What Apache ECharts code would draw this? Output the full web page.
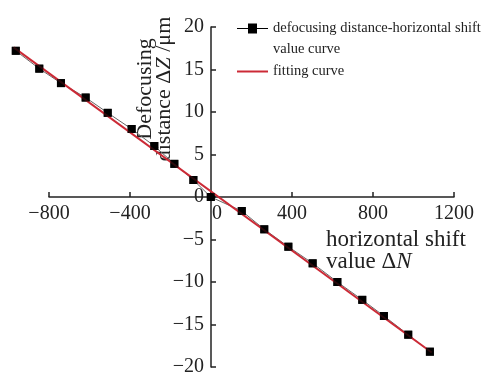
<!DOCTYPE html>
<html>
<head>
<meta charset="utf-8">
<script src="https://cdn.jsdelivr.net/npm/echarts@6/dist/echarts.min.js"></script>
<style>
html,body{margin:0;padding:0;background:#fff;}
#main{width:482px;height:374px;}
</style>
</head>
<body>
<div id="main"></div>
<script>
// measured points: horizontal shift value ΔN / defocusing distance ΔZ
var shiftN = [-964, -848, -741, -619, -510, -392, -280, -181, -87, -1, 152, 263, 382, 502, 624, 747, 854, 974, 1081];
var defocusZ = [17.2, 15.1, 13.4, 11.7, 9.9, 8.0, 6.0, 3.9, 2.0, 0.0, -1.65, -3.8, -5.85, -7.8, -10.0, -12.1, -14.0, -16.2, -18.2];
// fitting line end points
var fitN = [-975, 1090];
var fitZ = [17.6, -18.3];
var seriesNames = ['defocusing distance-horizontal shift value curve', 'fitting curve'];

var font = '"Liberation Serif", "DejaVu Serif", serif';
var minus = function (v) { return v === 0 ? '{z|0}' : String(v).replace('-', '\u2212'); };

var pairs = function (xs, ys) {
	var arr = [];
	for (var i = 0; i < xs.length; i++) { arr.push([xs[i], ys[i]]); }
	return arr;
};

var chart = echarts.init(document.getElementById('main'));
var option = {
	animation: false,
	backgroundColor: '#fff',
	// grid 0 carries the drawn axes, grid 1 (hidden axes, wider on the left) carries the data
	grid: [
		{left: 49, right: 28, top: 27, bottom: 7, containLabel: false, outerBoundsMode: 'none'},
		{left: 8.5, right: 28, top: 27, bottom: 7, containLabel: false, outerBoundsMode: 'none'}
	],
	legend: {
		orient: 'vertical', left: 237, top: 2.5, padding: 0,
		itemWidth: 31, itemHeight: 10, itemGap: 7,
		data: [
			{name: seriesNames[0], icon: 'path://M0,4.5H11V0H20V4.5H31V5.5H20V10H11V5.5H0Z'},
			{name: seriesNames[1], icon: 'path://M0,4H31V6H0Z'}
		],
		formatter: function (name) {
			if (name === seriesNames[0]) {
				return '{s| }\n{t|defocusing distance-horizontal shift}\n{t|value curve}';
			}
			return '{t|' + name + '}';
		},
		textStyle: {
			fontFamily: font, fontSize: 14.5, color: '#222',
			rich: {
				s: {fontSize: 10, lineHeight: 21},
				t: {fontFamily: font, fontSize: 14.5, lineHeight: 21, color: '#222'}
			}
		}
	},
	xAxis: [
		{
			gridIndex: 0, type: 'value', min: -800, max: 1200, interval: 400,
			position: 'bottom', offset: -170,
			axisLine: {onZero: false, lineStyle: {color: '#222', width: 1.5}},
			axisTick: {inside: true, length: 5, lineStyle: {color: '#222', width: 1.5}},
			axisLabel: {fontFamily: font, fontSize: 20, color: '#222', margin: 7, formatter: minus,
				rich: {z: {fontFamily: font, fontSize: 20, color: '#222', padding: [0, 0, 0, 12]}}},
			splitLine: {show: false}
		},
		{gridIndex: 1, type: 'value', min: -1000, max: 1200, show: false}
	],
	yAxis: [
		{
			gridIndex: 0, type: 'value', min: -20, max: 20, interval: 5,
			position: 'left', offset: -162,
			axisLine: {show: true, onZero: false, lineStyle: {color: '#222', width: 1.5}},
			axisTick: {show: true, inside: true, length: 5, lineStyle: {color: '#222', width: 1.5}},
			axisLabel: {fontFamily: font, fontSize: 20, color: '#222', margin: 7,
				formatter: function (v) { return String(v).replace('-', '\u2212'); }},
			splitLine: {show: false}
		},
		{gridIndex: 1, type: 'value', min: -20, max: 20, show: false}
	],
	graphic: [
		{
			type: 'text', x: 155, y: 89, rotation: Math.PI / 2,
			style: {
				text: '{n|Defocusing}\n{n|distance Δ}{i|Z}{n| /μm}',
				align: 'center', verticalAlign: 'middle',
				rich: {
					n: {fontFamily: font, fontSize: 22, lineHeight: 19, fill: '#222'},
					i: {fontFamily: font, fontSize: 22, lineHeight: 19, fontStyle: 'italic', fill: '#222'}
				}
			}
		},
		{
			type: 'text', left: 326, top: 228,
			style: {
				text: '{n|horizontal shift}\n{n|value Δ}{i|N}',
				rich: {
					n: {fontFamily: font, fontSize: 23, lineHeight: 22, fill: '#222'},
					i: {fontFamily: font, fontSize: 23, lineHeight: 22, fontStyle: 'italic', fill: '#222'}
				}
			}
		}
	],
	series: [
		{
			name: seriesNames[0], type: 'line', xAxisIndex: 1, yAxisIndex: 1, z: 2,
			data: pairs(shiftN, defocusZ),
			symbol: 'rect', symbolSize: 8,
			itemStyle: {color: '#000'},
			lineStyle: {color: '#666', width: 1}
		},
		{
			name: seriesNames[1], type: 'line', xAxisIndex: 1, yAxisIndex: 1, z: 3,
			data: pairs(fitN, fitZ),
			showSymbol: false, symbol: 'none',
			itemStyle: {color: '#cc2a36'},
			lineStyle: {color: '#cc2a36', width: 2}
		},
		{
			// squares drawn again on top of the red line
			name: 'points', type: 'scatter', xAxisIndex: 1, yAxisIndex: 1, z: 4,
			data: pairs(shiftN, defocusZ),
			symbol: 'rect', symbolSize: 8,
			itemStyle: {color: '#000'}
		}
	]
};
chart.setOption(option);
</script>
</body>
</html>
